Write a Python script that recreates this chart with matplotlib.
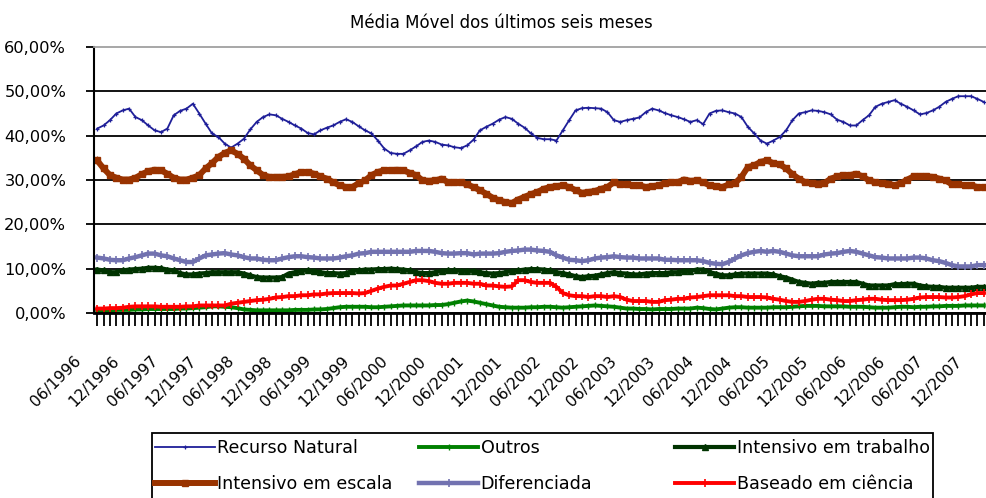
import numpy as np
import matplotlib
matplotlib.use("Agg")
import matplotlib.pyplot as plt
from matplotlib.patches import Rectangle
from matplotlib.transforms import ScaledTranslation

# monthly values, 06/1996 .. 01/2008 (percent)
recurso_natural = [41.6, 42.3, 43.5, 45, 45.7, 46.1, 44.2, 43.5, 42.3, 41.2,
                   40.8, 41.6, 44.6, 45.6, 46.1, 47.2, 45, 42.7, 40.5, 39.7,
                   38.2, 37.3, 38.2, 39.3, 41.4, 43.1, 44.2, 44.8, 44.6, 43.8,
                   43.1, 42.3, 41.6, 40.6, 40.3, 41.2, 41.8, 42.3, 43.1, 43.7,
                   43.1, 42.1, 41.2, 40.5, 38.9, 37.1, 36.1,
                   35.9, 35.9, 36.7, 37.6, 38.6, 38.9, 38.6, 38, 37.8, 37.4,
                   37.2, 37.8, 39.1, 41.2, 42, 42.7, 43.6, 44.2, 43.8, 42.7,
                   41.8, 40.5, 39.5, 39.2, 39.2, 38.9, 41.2, 43.5, 45.7, 46.2,
                   46.3, 46.2, 46.1, 45.3, 43.5, 43.1, 43.5, 43.8, 44.1, 45.3,
                   46.1, 45.7, 45.1, 44.6, 44.2, 43.7, 43.1,
                   43.5, 42.6, 45, 45.6, 45.7, 45.3, 45, 44.2, 42, 40.5,
                   38.9, 38.2, 38.9, 39.7, 41.2, 43.5, 45, 45.3, 45.7, 45.6,
                   45.3, 44.8, 43.6, 43.1, 42.3, 42.3, 43.5, 44.6, 46.5, 47.2,
                   47.6, 48, 47.2, 46.5, 45.7, 44.8, 45.1, 45.7, 46.5, 47.6,
                   48.3, 48.9, 48.9, 48.9, 48.3, 47.6]

intensivo_escala = [34.4, 32.6, 31.1, 30.5, 30.1, 30.1, 30.5, 31.3, 32, 32.3,
                    32.2, 31.4, 30.5, 30.1, 30.1, 30.5, 31.1, 32.6, 33.8, 35.2,
                    36.1, 36.7, 35.9, 34.8, 33.3, 32.2, 31.1, 30.7, 30.7, 30.7,
                    30.8, 31.3, 31.8, 31.8, 31.4, 30.8, 30.3, 29.5, 28.8, 28.4,
                    28.4, 29.3, 29.9, 31.1, 31.8, 32.2, 32.2,
                    32.3, 32.2, 31.6, 31.1, 29.9, 29.8, 29.9, 30.3, 29.5, 29.5,
                    29.5, 29, 28.4, 27.7, 26.9, 26, 25.4, 25, 24.8, 25.6,
                    26.2, 26.8, 27.3, 28, 28.4, 28.6, 28.8, 28.4, 27.7, 27.1,
                    27.3, 27.5, 28, 28.4, 29.5, 29, 29, 28.8, 28.8, 28.4,
                    28.6, 28.8, 29.3, 29.5, 29.5, 30.1, 29.8,
                    29.9, 29.5, 28.8, 28.6, 28.4, 29, 29.3, 30.7, 32.9, 33.3,
                    34.1, 34.4, 33.8, 33.5, 32.6, 31.3, 30.3, 29.5, 29.3, 29.2,
                    29.3, 30.3, 30.8, 31.1, 31.1, 31.4, 30.8, 29.9, 29.5, 29.3,
                    29.2, 28.8, 29.3, 30.1, 30.8, 30.8, 30.8, 30.7, 30.3, 29.9,
                    29, 29, 28.8, 28.8, 28.4, 28.4]

diferenciada = [12.5, 12.3, 12, 11.9, 11.9, 12.3, 12.6, 13, 13.4, 13.4,
                13, 12.8, 12.3, 11.9, 11.5, 11.5, 12.3, 13, 13.2, 13.4,
                13.5, 13.2, 13, 12.6, 12.3, 12.3, 12, 11.9, 11.9, 12.3,
                12.6, 12.8, 12.8, 12.6, 12.5, 12.3, 12.3, 12.3, 12.5, 12.8,
                13, 13.4, 13.5, 13.8, 13.8, 13.8, 13.8,
                13.8, 13.8, 13.8, 14, 14, 14, 13.8, 13.5, 13.4, 13.4,
                13.5, 13.5, 13.2, 13.4, 13.4, 13.4, 13.5, 13.8, 14, 14.1,
                14.3, 14.3, 14.1, 14, 13.8, 13, 12.5, 12, 11.9, 11.7,
                11.9, 12.3, 12.5, 12.6, 12.8, 12.6, 12.5, 12.5, 12.3, 12.3,
                12.3, 12.3, 12, 12, 11.9, 11.9, 11.9,
                11.9, 11.7, 11.3, 11.1, 11, 11.5, 12.3, 13, 13.5, 13.8,
                14, 13.8, 14, 13.8, 13.4, 13, 12.8, 12.8, 12.8, 12.8,
                13.2, 13.4, 13.5, 13.8, 14, 13.8, 13.4, 13, 12.6, 12.5,
                12.3, 12.3, 12.3, 12.3, 12.5, 12.5, 12.3, 11.9, 11.7, 11.3,
                10.8, 10.5, 10.5, 10.5, 10.8, 10.8]

intensivo_trabalho = [9.8, 9.6, 9.2, 9.2, 9.6, 9.8, 9.9, 10, 10.2, 10.2,
                      10.1, 9.8, 9.6, 9, 8.7, 8.7, 8.9, 9, 9.2, 9.2,
                      9.2, 9.2, 9.2, 8.9, 8.5, 8.1, 8, 8, 8, 8.1,
                      8.9, 9.2, 9.5, 9.6, 9.5, 9.2, 9, 9, 8.9, 9,
                      9.5, 9.6, 9.8, 9.8, 9.9, 9.9, 10,
                      9.9, 9.8, 9.6, 9.2, 9, 9, 9.2, 9.5, 9.6, 9.6,
                      9.5, 9.5, 9.5, 9.2, 9, 8.9, 9, 9.2, 9.5, 9.6,
                      9.8, 9.9, 9.9, 9.8, 9.6, 9.2, 9, 8.7, 8.3, 8.1,
                      8.3, 8.4, 8.7, 9, 9.2, 9, 8.9, 8.7, 8.7, 8.9,
                      9, 9, 9, 9.2, 9.2, 9.5, 9.5,
                      9.8, 9.8, 9.2, 8.9, 8.5, 8.5, 8.7, 8.9, 8.9, 8.9,
                      8.9, 8.9, 8.7, 8.3, 8, 7.5, 7, 6.8, 6.6, 6.8,
                      6.8, 7, 7, 7, 7, 7, 6.6, 6.2, 6.2, 6.2,
                      6.2, 6.5, 6.5, 6.6, 6.6, 6.2, 6, 5.9, 5.9, 5.7,
                      5.7, 5.7, 5.7, 5.7, 5.9, 5.9]

baseado_ciencia = [1, 1, 1.1, 1.1, 1.2, 1.4, 1.5, 1.5, 1.5, 1.5,
                   1.4, 1.4, 1.4, 1.4, 1.5, 1.5, 1.7, 1.7, 1.7, 1.7,
                   1.7, 2.1, 2.3, 2.5, 2.7, 2.9, 3, 3.2, 3.5, 3.6,
                   3.8, 3.8, 4, 4, 4.2, 4.2, 4.4, 4.5, 4.5, 4.5,
                   4.5, 4.4, 4.5, 5, 5.5, 5.9, 6.2,
                   6.2, 6.6, 7, 7.4, 7.4, 7.2, 6.8, 6.6, 6.6, 6.8,
                   6.8, 6.8, 6.6, 6.6, 6.2, 6.2, 6, 5.9, 6, 7.4,
                   7.4, 7, 6.8, 6.8, 6.8, 5.9, 4.5, 4, 3.8, 3.8,
                   3.6, 3.8, 3.8, 3.6, 3.8, 3.6, 3, 2.7, 2.7, 2.7,
                   2.5, 2.5, 2.9, 3, 3.2, 3.2, 3.5,
                   3.6, 3.8, 4, 4, 4, 4, 3.8, 3.8, 3.6, 3.6,
                   3.6, 3.5, 3.2, 3, 2.7, 2.5, 2.5, 2.7, 3, 3.2,
                   3.2, 3, 2.9, 2.7, 2.7, 2.9, 3, 3.2, 3.2, 3,
                   2.9, 2.9, 2.9, 3, 3.2, 3.5, 3.6, 3.6, 3.6, 3.5,
                   3.5, 3.6, 3.8, 4.2, 4.5, 4.5]

outros = [0.6, 0.6, 0.6, 0.7, 0.7, 0.7, 0.8, 0.8, 0.9, 0.9,
          0.9, 0.9, 0.9, 1, 1, 1.1, 1.2, 1.3, 1.5, 1.5,
          1.4, 1.3, 1.1, 0.8, 0.7, 0.6, 0.6, 0.6, 0.6, 0.6,
          0.6, 0.7, 0.7, 0.7, 0.8, 0.8, 0.9, 1.1, 1.3, 1.4,
          1.4, 1.4, 1.4, 1.3, 1.3, 1.4, 1.5,
          1.6, 1.7, 1.7, 1.7, 1.7, 1.7, 1.8, 1.8, 2, 2.3,
          2.6, 2.8, 2.6, 2.3, 2, 1.7, 1.4, 1.3, 1.2, 1.2,
          1.2, 1.3, 1.3, 1.4, 1.4, 1.3, 1.2, 1.3, 1.4, 1.5,
          1.6, 1.7, 1.6, 1.5, 1.4, 1.2, 1, 1, 0.9, 0.9,
          0.8, 0.9, 0.9, 0.9, 1, 1, 1,
          1.2, 1.1, 0.9, 0.8, 1, 1.2, 1.3, 1.3, 1.2, 1.2,
          1.2, 1.2, 1.3, 1.3, 1.3, 1.4, 1.5, 1.6, 1.6, 1.6,
          1.5, 1.5, 1.5, 1.5, 1.4, 1.4, 1.4, 1.3, 1.2, 1.2,
          1.2, 1.3, 1.4, 1.4, 1.3, 1.4, 1.4, 1.5, 1.5, 1.6,
          1.6, 1.6, 1.7, 1.7, 1.7, 1.7]

tick_labels = ["06/1996", "12/1996", "06/1997", "12/1997", "06/1998", "12/1998",
               "06/1999", "12/1999", "06/2000", "12/2000", "06/2001", "12/2001",
               "06/2002", "12/2002", "06/2003", "12/2003", "06/2004", "12/2004",
               "06/2005", "12/2005", "06/2006", "12/2006", "06/2007", "12/2007"]

x = np.arange(len(recurso_natural))

fig = plt.figure(figsize=(9.87, 4.98), dpi=100)
ax = fig.add_axes([94/987, 1 - 313/498, 1 - 94/987, (313 - 47)/498])

l_rn, = ax.plot(x, recurso_natural, color="#1f1f99", lw=1.3, marker="+", ms=3.5, mew=0.9)
l_ou, = ax.plot(x, outros, color="#008000", lw=2.8, marker="|", ms=5, mew=1)
l_it, = ax.plot(x, intensivo_trabalho, color="#003300", lw=3, marker="^", ms=4)
l_ie, = ax.plot(x, intensivo_escala, color="#993300", lw=4.3, marker="s", ms=4.3)
l_di, = ax.plot(x, diferenciada, color="#7272b0", lw=3.2, marker="+", ms=6, mew=1.2)
l_bc, = ax.plot(x, baseado_ciencia, color="#ff0000", lw=2.8, marker="+", ms=6, mew=1.2)

ax.set_xlim(-0.5, len(x) - 0.5)
ax.set_ylim(0, 60)
ax.set_yticks(np.arange(0, 61, 10))
ax.set_yticklabels([("%.2f%%" % v).replace(".", ",") for v in np.arange(0, 61, 10)])
ax.tick_params(axis="y", length=6, width=1.3, pad=14, labelsize=11.7)

ax.set_xticks(np.arange(0, len(x), 6))
ax.set_xticklabels(tick_labels, rotation=45, ha="right", va="top")
ax.set_xticks(x, minor=True)
ax.tick_params(axis="x", which="both", length=9, width=1.3, pad=20, labelsize=11.2)
offset = ScaledTranslation(-13/100, 0, fig.dpi_scale_trans)
for lab in ax.get_xticklabels():
    lab.set_transform(lab.get_transform() + offset)

ax.yaxis.grid(True, color="black", lw=1.3)
ax.get_ygridlines()[-1].set_visible(False)
ax.set_axisbelow(True)
ax.spines["right"].set_visible(False)
ax.spines["top"].set_color("#a0a0a0")
ax.spines["top"].set_linewidth(1.3)
ax.spines["left"].set_linewidth(1.5)
ax.spines["bottom"].set_linewidth(2)

fig.text(0.508, 0.954, "Média Móvel dos últimos seis meses", ha="center", va="center", fontsize=12)

# legend: three columns inside one frame
fig.add_artist(Rectangle((152/987, -0.02), (933 - 152)/987, 0.02 + (498 - 433)/498,
                         transform=fig.transFigure, fill=False, ec="black", lw=1.3))
cols = [([l_rn, l_ie], ["Recurso Natural", "Intensivo em escala"], 155),
        ([l_ou, l_di], ["Outros", "Diferenciada"], 419),
        ([l_it, l_bc], ["Intensivo em trabalho", "Baseado em ciência"], 675)]
for handles, labels, px in cols:
    fig.legend(handles, labels, loc="center left", bbox_to_anchor=(px/987, 1 - 466/498),
               frameon=False, fontsize=12.6, numpoints=1, handlelength=3.4,
               handletextpad=0.12, borderpad=0, borderaxespad=0, labelspacing=1.0)

fig.savefig("out.png", dpi=100)
